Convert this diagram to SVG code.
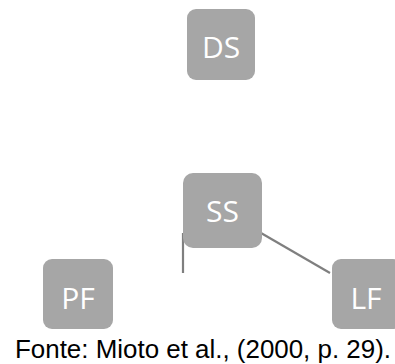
<svg xmlns="http://www.w3.org/2000/svg" width="395" height="364" viewBox="0 0 395 364">
<style>
.box{fill:#a6a6a6}
.lbl{fill:#ffffff;font-family:"Open Sans","Noto Sans",sans-serif;font-size:30px;text-anchor:middle}
.con{stroke:#7f7f7f;stroke-width:2.2;fill:none}
.cap{fill:#000000;font-family:"Liberation Sans",Arial,sans-serif;font-size:25px}
</style>
<rect width="395" height="364" fill="#ffffff"/>
<g id="connectors">
<line class="con" x1="183" y1="233" x2="183" y2="273"/>
<line class="con" x1="261" y1="233" x2="330" y2="273"/>
</g>
<g id="DS">
<rect class="box" x="187" y="9" width="68" height="71" rx="9"/>
<text class="lbl" x="221" y="58">DS</text>
</g>
<g id="SS">
<rect class="box" x="183" y="173" width="79" height="75" rx="10"/>
<text class="lbl" x="222.5" y="222">SS</text>
</g>
<g id="PF">
<rect class="box" x="43" y="259" width="70" height="70" rx="9"/>
<text class="lbl" x="78" y="309">PF</text>
</g>
<g id="LF">
<rect class="box" x="332" y="259" width="70" height="70" rx="9"/>
<text class="lbl" x="366" y="309">LF</text>
</g>
<text class="cap" x="15" y="358" textLength="376" lengthAdjust="spacingAndGlyphs">Fonte: Mioto et al., (2000, p. 29).</text>
</svg>
